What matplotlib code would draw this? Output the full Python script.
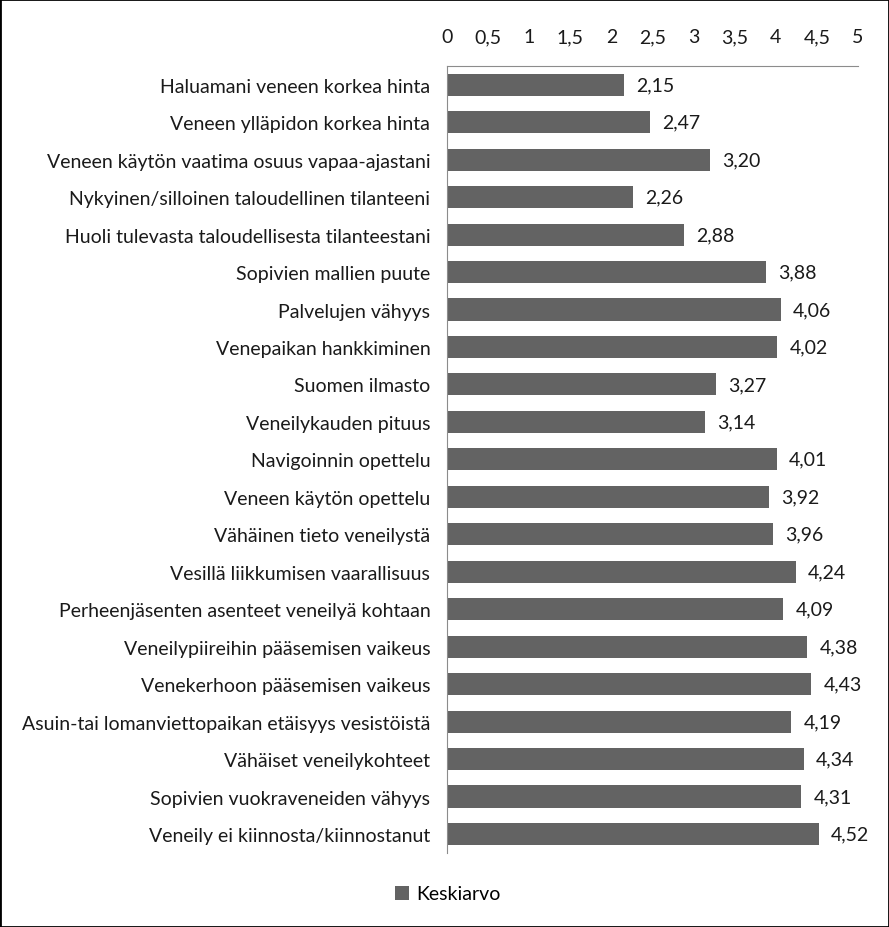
import matplotlib
matplotlib.use('Agg')
import matplotlib.pyplot as plt
from matplotlib.patches import Rectangle

plt.rcParams['font.family'] = ['Lato', 'DejaVu Sans']

categories = [
    'Haluamani veneen korkea hinta',
    'Veneen ylläpidon korkea hinta',
    'Veneen käytön vaatima osuus vapaa-ajastani',
    'Nykyinen/silloinen taloudellinen tilanteeni',
    'Huoli tulevasta taloudellisesta tilanteestani',
    'Sopivien mallien puute',
    'Palvelujen vähyys',
    'Venepaikan hankkiminen',
    'Suomen ilmasto',
    'Veneilykauden pituus',
    'Navigoinnin opettelu',
    'Veneen käytön opettelu',
    'Vähäinen tieto veneilystä',
    'Vesillä liikkumisen vaarallisuus',
    'Perheenjäsenten asenteet veneilyä kohtaan',
    'Veneilypiireihin pääsemisen vaikeus',
    'Venekerhoon pääsemisen vaikeus',
    'Asuin-tai lomanviettopaikan etäisyys vesistöistä',
    'Vähäiset veneilykohteet',
    'Sopivien vuokraveneiden vähyys',
    'Veneily ei kiinnosta/kiinnostanut',
]
values = [2.15, 2.47, 3.20, 2.26, 2.88, 3.88, 4.06, 4.02, 3.27, 3.14,
          4.01, 3.92, 3.96, 4.24, 4.09, 4.38, 4.43, 4.19, 4.34, 4.31, 4.52]
xticks = [0, 0.5, 1, 1.5, 2, 2.5, 3, 3.5, 4, 4.5, 5]

W, H = 889, 928
fs = 14
fig = plt.figure(figsize=(W / 100, H / 100), dpi=100)
ax = fig.add_axes([447 / W, 1 - 853.7 / H, 411 / W, (853.7 - 67) / H])

bar_color = '#636363'
ypos = list(range(len(categories)))
ax.barh(ypos, values, height=0.59, color=bar_color, label='Keskiarvo')
ax.set_ylim(len(categories) - 0.5, -0.5)
ax.set_xlim(0, 5)

for y, v in zip(ypos, values):
    ax.text(v + 0.15, y, f'{v:.2f}'.replace('.', ','), va='center', ha='left',
            fontsize=fs, color='#1a1a1a')

ax.xaxis.tick_top()
ax.set_xticks(xticks)
ax.set_xticklabels([str(t).replace('.', ',') if t % 1 else str(int(t)) for t in xticks])
ax.set_yticks(ypos)
ax.set_yticklabels(categories)
ax.tick_params(axis='x', length=0, pad=15, labelsize=fs, colors='#1a1a1a')
ax.tick_params(axis='y', length=0, pad=12, labelsize=fs, colors='#1a1a1a')

for s in ['right', 'bottom']:
    ax.spines[s].set_visible(False)
ax.spines['top'].set_color('#8c8c8c')
ax.spines['left'].set_color('#8c8c8c')

fig.legend(loc='center', bbox_to_anchor=(448 / W, 1 - 895 / H), frameon=False,
           fontsize=fs, handlelength=0.7, handleheight=0.7, handletextpad=0.4)

fig.patches.append(Rectangle((0, 0), 1, 1, transform=fig.transFigure, fill=False,
                             edgecolor='black', linewidth=2))

fig.savefig('out.png', dpi=100)
